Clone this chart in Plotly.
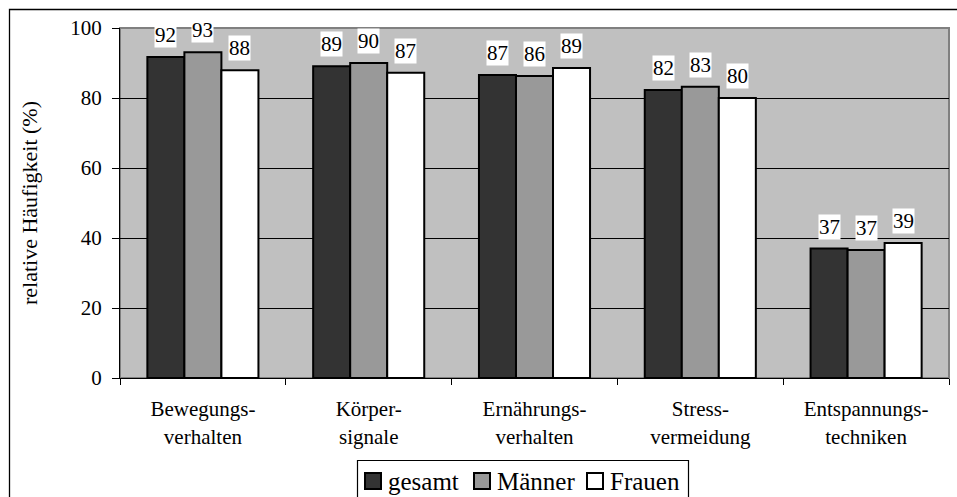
import plotly.graph_objects as go

categories = ["Bewegungs-<br>verhalten", "Körper-<br>signale", "Ernährungs-<br>verhalten",
              "Stress-<br>vermeidung", "Entspannungs-<br>techniken"]
gesamt = [91.7, 89.1, 86.6, 82.3, 37.0]
maenner = [93.1, 90.0, 86.3, 83.2, 36.6]
frauen = [87.9, 87.2, 88.6, 80.0, 38.6]
series_names = ["gesamt", "Männer", "Frauen"]
series_colors = ["#333333", "#999999", "#ffffff"]
y_ticks = [0, 20, 40, 60, 80, 100]

FONT = "Liberation Serif"
W, H = 957, 497
L, R, T, B = 120, 8, 28, 119
BARGAP = 0.33
pw = W - L - R
ph = H - T - B


def xp(px):
    return (px - L) / pw


def yp(py):
    return (T + ph - py) / ph


fig = go.Figure()
xs = list(range(len(categories)))
series = [gesamt, maenner, frauen]
for name, vals, col in zip(series_names, series, series_colors):
    fig.add_trace(go.Bar(
        x=xs, y=vals, name=name, showlegend=False,
        marker=dict(color=col, line=dict(color="black", width=2)),
    ))

# value labels with white background
bw = (1 - BARGAP) / 3
for k, vals in enumerate(series):
    off = (k - 1) * bw
    for i, v in enumerate(vals):
        fig.add_annotation(
            x=i + off, y=v, xref="x", yref="y",
            text=str(round(v)), showarrow=False,
            yanchor="bottom", yshift=9,
            bgcolor="white", borderpad=0,
            font=dict(family=FONT, size=21, color="black"),
        )

# plot area border (top/right grey)
fig.add_shape(type="rect", xref="paper", yref="paper", x0=0, x1=1, y0=0, y1=1,
              line=dict(color="#808080", width=2), layer="below")
# outer chart frame
fig.add_shape(type="rect", xref="paper", yref="paper",
              x0=xp(9.5), x1=xp(W + 20), y0=yp(H + 20), y1=yp(9.5),
              line=dict(color="black", width=1.3))

# legend (drawn manually to match the compact original layout)
fig.add_shape(type="rect", xref="paper", yref="paper",
              x0=xp(357.5), x1=xp(688.5), y0=yp(H + 20), y1=yp(460.5),
              line=dict(color="black", width=1.2), fillcolor="white")
leg_x = [365, 474, 587]
for name, col, lx in zip(series_names, series_colors, leg_x):
    fig.add_shape(type="rect", xref="paper", yref="paper",
                  x0=xp(lx), x1=xp(lx + 16), y0=yp(489), y1=yp(473),
                  line=dict(color="black", width=2), fillcolor=col)
    fig.add_annotation(x=xp(lx + 21), y=yp(481), xref="paper", yref="paper",
                       text=name, showarrow=False, xanchor="left", yanchor="middle",
                       font=dict(family=FONT, size=25, color="black"))

fig.update_layout(
    width=W, height=H,
    margin=dict(l=L, r=R, t=T, b=B, autoexpand=False),
    paper_bgcolor="white", plot_bgcolor="#c0c0c0",
    barmode="group", bargap=BARGAP, bargroupgap=0,
    font=dict(family=FONT, size=21, color="black"),
    showlegend=False,
    xaxis=dict(
        tickmode="array", tickvals=xs, ticktext=categories,
        range=[-0.5, len(categories) - 0.5],
        showgrid=False, showline=True, linecolor="black", linewidth=1,
        ticks="", tickfont=dict(family=FONT, size=21), ticklabelstandoff=12,
        zeroline=False, automargin=False,
        minor=dict(tickvals=[i + 0.5 for i in range(-1, len(categories))],
                   ticks="outside", ticklen=6, tickcolor="black", showgrid=False),
    ),
    yaxis=dict(
        range=[0, 100], tickvals=y_ticks,
        showgrid=True, gridcolor="black", gridwidth=1,
        showline=True, linecolor="black", linewidth=1,
        ticks="outside", ticklen=7, tickcolor="black",
        tickfont=dict(family=FONT, size=21), ticklabelstandoff=6,
        zeroline=False, automargin=False,
        title=dict(text="relative Häufigkeit (%)", standoff=26,
                   font=dict(family=FONT, size=22)),
    ),
)

fig.write_html("out.html", config={"displayModeBar": False},
               post_script="document.body.style.margin='0';document.body.style.overflow='hidden';")
